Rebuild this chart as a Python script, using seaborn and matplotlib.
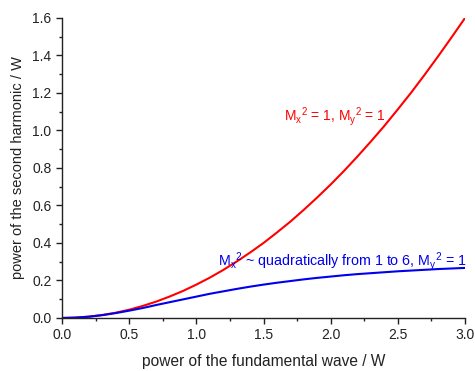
import numpy as np
import pandas as pd
import matplotlib
matplotlib.use("Agg")
import matplotlib.pyplot as plt
import seaborn as sns
from matplotlib.ticker import MultipleLocator

# data
p_fund = [0.0, 0.1, 0.2, 0.3, 0.4, 0.5, 0.6, 0.7, 0.8, 0.9, 1.0,
          1.1, 1.2, 1.3, 1.4, 1.5, 1.6, 1.7, 1.8, 1.9, 2.0,
          2.1, 2.2, 2.3, 2.4, 2.5, 2.6, 2.7, 2.8, 2.9, 3.0]
p_shg_m1 = [0.0, 0.0018, 0.007, 0.016, 0.028, 0.044, 0.064, 0.087, 0.114, 0.144, 0.178,
            0.215, 0.256, 0.301, 0.349, 0.400, 0.456, 0.514, 0.577, 0.643, 0.712,
            0.785, 0.862, 0.942, 1.025, 1.113, 1.203, 1.298, 1.396, 1.497, 1.600]
p_shg_mq = [0.0, 0.0018, 0.007, 0.015, 0.026, 0.039, 0.053, 0.069, 0.084, 0.099, 0.114,
            0.129, 0.142, 0.155, 0.167, 0.178, 0.188, 0.197, 0.206, 0.214, 0.221,
            0.228, 0.234, 0.239, 0.244, 0.249, 0.253, 0.257, 0.261, 0.264, 0.267]

label_m1 = r"$\mathregular{M_x{}^{2}}$ = 1, $\mathregular{M_y{}^{2}}$ = 1"
label_mq = r"$\mathregular{M_x{}^{2}}$ ~ quadratically from 1 to 6, $\mathregular{M_y{}^{2}}$ = 1"

df = pd.DataFrame({
    "x": p_fund * 2,
    "y": p_shg_m1 + p_shg_mq,
    "series": ["m1"] * len(p_fund) + ["mq"] * len(p_fund),
})

sns.set_style("ticks")
plt.rcParams["font.family"] = ["Liberation Sans", "DejaVu Sans"]
plt.rcParams["mathtext.fontset"] = "custom"
plt.rcParams["mathtext.rm"] = "Liberation Sans"
plt.rcParams["mathtext.it"] = "Liberation Sans"

fig = plt.figure(figsize=(4.75, 3.71), dpi=100)
ax = fig.add_axes([0.1305, 0.1429, 0.8485, 0.8086])

sns.lineplot(data=df, x="x", y="y", hue="series",
             palette={"m1": "#ff0000", "mq": "#0000ee"},
             linewidth=1.5, legend=False, ax=ax)

ax.set_xlim(0, 3.0)
ax.set_ylim(0, 1.6)
ax.xaxis.set_major_locator(MultipleLocator(0.5))
ax.xaxis.set_minor_locator(MultipleLocator(0.25))
ax.yaxis.set_major_locator(MultipleLocator(0.2))
ax.yaxis.set_minor_locator(MultipleLocator(0.1))
ax.xaxis.set_major_formatter(matplotlib.ticker.FormatStrFormatter("%.1f"))
ax.yaxis.set_major_formatter(matplotlib.ticker.FormatStrFormatter("%.1f"))
ax.tick_params(which="major", length=4, width=1, labelsize=10, colors="#222222", labelcolor="#222222")
ax.tick_params(which="minor", length=2.5, width=1, colors="#222222")
for s in ["top", "right"]:
    ax.spines[s].set_visible(False)
for s in ["left", "bottom"]:
    ax.spines[s].set_color("#222222")
    ax.spines[s].set_linewidth(1)

ax.set_xlabel("power of the fundamental wave / W", fontsize=11.2, labelpad=8, color="#222222")
ax.set_ylabel("power of the second harmonic / W", fontsize=10.5, labelpad=5, color="#222222")

ax.text(1.65, 1.075, label_m1, color="#ff0000", fontsize=10.0, ha="left", va="center")
ax.text(1.16, 0.30, label_mq, color="#0000ee", fontsize=10.3, ha="left", va="center", clip_on=False)

fig.savefig("out.png", dpi=100)
